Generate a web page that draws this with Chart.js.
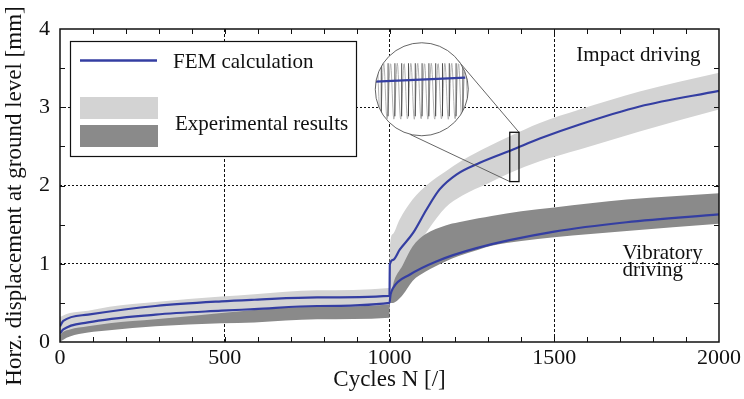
<!DOCTYPE html>
<html>
<head>
<meta charset="utf-8">
<script src="https://cdn.jsdelivr.net/npm/chart.js@4.4.1/dist/chart.umd.min.js"></script>
<style>
  html, body { margin: 0; padding: 0; background: #fff; }
  #wrap { width: 744px; height: 399px; }
</style>
</head>
<body>
<div id="wrap"><canvas id="myChart" width="744" height="399"></canvas></div>
<script>
// FEM calculation curves
const femImpactN = [0, 10, 85, 290, 490, 590, 780, 1000, 1001, 1011, 1031, 1071, 1112, 1152, 1203, 1274, 1375, 1456, 1577, 1759, 2000];
const femImpact  = [0.20, 0.27, 0.35, 0.46, 0.52, 0.54, 0.57, 0.59, 0.99, 1.05, 1.18, 1.39, 1.69, 1.95, 2.14, 2.29, 2.46, 2.60, 2.78, 3.01, 3.21];

const femVibN = [0, 10, 85, 290, 490, 590, 780, 1000, 1003, 1011, 1061, 1142, 1264, 1500, 1719, 2000];
const femVib  = [0.11, 0.16, 0.25, 0.35, 0.40, 0.42, 0.46, 0.50, 0.60, 0.69, 0.86, 1.03, 1.20, 1.41, 1.53, 1.63];

// experimental results, impact driving (light band)
const lightN      = [0, 10, 30, 85, 150, 290, 490, 590, 780, 1000, 1001, 1010, 1030, 1070, 1120, 1170, 1220, 1300, 1365, 1456, 1577, 1759, 2000];
const lightTop    = [0.32, 0.34, 0.37, 0.40, 0.45, 0.51, 0.58, 0.61, 0.66, 0.69, 1.20, 1.38, 1.56, 1.82, 2.03, 2.18, 2.32, 2.50, 2.63, 2.80, 2.97, 3.20, 3.44];
const lightBottom = [0.08, 0.10, 0.13, 0.17, 0.21, 0.26, 0.33, 0.36, 0.40, 0.44, 0.55, 0.62, 0.80, 1.12, 1.45, 1.72, 1.87, 2.03, 2.16, 2.31, 2.46, 2.69, 2.97];

// experimental results, vibratory driving (dark band)
const darkN      = [0, 10, 30, 85, 150, 290, 490, 590, 780, 1000, 1001, 1010, 1040, 1070, 1110, 1170, 1210, 1270, 1310, 1400, 1500, 1720, 2000];
const darkTop    = [0.09, 0.13, 0.16, 0.20, 0.24, 0.29, 0.37, 0.41, 0.45, 0.48, 0.50, 0.72, 0.98, 1.22, 1.38, 1.49, 1.53, 1.58, 1.61, 1.67, 1.72, 1.82, 1.90];
const darkBottom = [0.00, 0.03, 0.07, 0.12, 0.15, 0.20, 0.24, 0.25, 0.29, 0.31, 0.50, 0.50, 0.60, 0.78, 0.90, 1.03, 1.10, 1.18, 1.23, 1.29, 1.34, 1.42, 1.51];

const xTicks = [0, 500, 1000, 1500, 2000];
const yTicks = [0, 1, 2, 3, 4];

const blue = "rgb(52, 62, 162)";
const lightGrey = "rgb(211, 211, 211)";
const darkGrey = "rgb(138, 138, 138)";
const serif = "'Liberation Serif', 'Times New Roman', serif";

function pts(xs, ys) {
  return xs.map((x, i) => ({ x: x, y: ys[i] }));
}

function bandLine(data, fill, color) {
  return {
    data: data,
    borderWidth: 0,
    borderColor: "rgba(0,0,0,0)",
    pointRadius: 0,
    fill: fill,
    backgroundColor: color,
    cubicInterpolationMode: "monotone"
  };
}

// inset magnifier, legend, labels, inward ticks and frame
const extras = {
  id: "extras",
  afterDatasetsDraw(chart) {
    const ctx = chart.ctx;
    const xs = chart.scales.x;
    const ys = chart.scales.y;
    const area = chart.chartArea;

    // zoom box and magnifier circle
    const bx1 = xs.getPixelForValue(1365), bx2 = xs.getPixelForValue(1393);
    const by1 = ys.getPixelForValue(2.68), by2 = ys.getPixelForValue(2.05);
    const cx = xs.getPixelForValue(1098), cy = ys.getPixelForValue(3.23);
    const r = 46.5;

    ctx.save();
    ctx.strokeStyle = "#555";
    ctx.lineWidth = 0.9;
    ctx.beginPath();
    ctx.moveTo(cx + 36, cy - 29);
    ctx.lineTo(bx2, by1);
    ctx.moveTo(cx - 12, cy + 45);
    ctx.lineTo(bx1, by2);
    ctx.stroke();

    ctx.beginPath();
    ctx.arc(cx, cy, r, 0, Math.PI * 2);
    ctx.fillStyle = "#fff";
    ctx.fill();
    ctx.save();
    ctx.clip();
    // grey oscillation
    ctx.strokeStyle = "#aaa";
    ctx.lineWidth = 0.9;
    ctx.beginPath();
    const period = 6.8;
    let first = true;
    for (let px = cx - r; px <= cx + r; px += 0.5) {
      const py = cy + 2 + 28 * Math.cos((px - (cx - r + 5)) / period * Math.PI * 2);
      if (first) { ctx.moveTo(px, py); first = false; } else ctx.lineTo(px, py);
    }
    ctx.stroke();
    // black verticals
    ctx.strokeStyle = "#222";
    ctx.lineWidth = 0.8;
    ctx.beginPath();
    for (let k = 0; k < 14; k++) {
      const px = cx - r + 5 + k * period + 1;
      ctx.moveTo(px, cy - 26);
      ctx.lineTo(px, cy + 27);
    }
    ctx.stroke();
    ctx.strokeStyle = blue;
    ctx.lineWidth = 2.2;
    ctx.beginPath();
    ctx.moveTo(cx - r, cy - 7.7);
    ctx.lineTo(cx + r - 3, cy - 11.7);
    ctx.stroke();
    ctx.restore();

    ctx.strokeStyle = "#555";
    ctx.lineWidth = 0.9;
    ctx.beginPath();
    ctx.arc(cx, cy, r, 0, Math.PI * 2);
    ctx.stroke();

    ctx.strokeStyle = "#111";
    ctx.lineWidth = 1.3;
    ctx.strokeRect(bx1, by1, bx2 - bx1, by2 - by1);

    // text labels
    ctx.fillStyle = "#111";
    ctx.font = "21px " + serif;
    ctx.textAlign = "left";
    ctx.textBaseline = "alphabetic";
    ctx.fillText("Impact driving", xs.getPixelForValue(1567), ys.getPixelForValue(3.585));
    ctx.fillText("Vibratory", xs.getPixelForValue(1707), ys.getPixelForValue(1.06));
    ctx.fillText("driving", xs.getPixelForValue(1707), ys.getPixelForValue(0.845));

    // legend
    ctx.fillStyle = "#fff";
    ctx.fillRect(70.5, 41.5, 286, 115);
    ctx.strokeStyle = "#111";
    ctx.lineWidth = 1.2;
    ctx.strokeRect(70.5, 41.5, 286, 115);
    ctx.strokeStyle = blue;
    ctx.lineWidth = 2.6;
    ctx.beginPath();
    ctx.moveTo(80, 60.5);
    ctx.lineTo(157, 60.5);
    ctx.stroke();
    ctx.fillStyle = lightGrey;
    ctx.fillRect(80, 97, 78, 22);
    ctx.fillStyle = darkGrey;
    ctx.fillRect(80, 125, 78, 22);
    ctx.fillStyle = "#111";
    ctx.font = "21px " + serif;
    ctx.fillText("FEM calculation", 173, 68);
    ctx.fillText("Experimental results", 175, 130);

    // inward minor ticks
    ctx.strokeStyle = "#111";
    ctx.lineWidth = 1;
    ctx.beginPath();
    for (let n = 100; n < 2000; n += 100) {
      const px = Math.round(xs.getPixelForValue(n)) + 0.5;
      ctx.moveTo(px, area.bottom);
      ctx.lineTo(px, area.bottom - 5);
      ctx.moveTo(px, area.top);
      ctx.lineTo(px, area.top + 5);
    }
    for (let v = 0.5; v < 4; v += 0.5) {
      const py = Math.round(ys.getPixelForValue(v)) + 0.5;
      ctx.moveTo(area.left, py);
      ctx.lineTo(area.left + 5, py);
      ctx.moveTo(area.right, py);
      ctx.lineTo(area.right - 5, py);
    }
    ctx.stroke();

    // frame
    ctx.lineWidth = 1.5;
    ctx.strokeRect(area.left, area.top, area.right - area.left, area.bottom - area.top);

    // y axis title
    ctx.save();
    ctx.translate(15, 196);
    ctx.rotate(-Math.PI / 2);
    ctx.textAlign = "center";
    ctx.textBaseline = "middle";
    ctx.font = "23px " + serif;
    ctx.fillStyle = "#111";
    ctx.fillText("Horz. displacement at ground level [mm]", 0, 0);
    ctx.restore();

    ctx.restore();
  }
};

const ctx = document.getElementById("myChart");

new Chart(ctx, {
  type: "line",
  data: {
    datasets: [
      {
        data: pts(femImpactN, femImpact),
        borderColor: blue,
        borderWidth: 2.2,
        pointRadius: 0,
        fill: false,
        cubicInterpolationMode: "monotone"
      },
      {
        data: pts(femVibN, femVib),
        borderColor: blue,
        borderWidth: 2.2,
        pointRadius: 0,
        fill: false,
        cubicInterpolationMode: "monotone"
      },
      bandLine(pts(darkN, darkTop), "+1", darkGrey),
      bandLine(pts(darkN, darkBottom), false, darkGrey),
      bandLine(pts(lightN, lightTop), "+1", lightGrey),
      bandLine(pts(lightN, lightBottom), false, lightGrey)
    ]
  },
  options: {
    responsive: false,
    animation: false,
    devicePixelRatio: 1,
    layout: { padding: { left: 0, right: 24, top: 29, bottom: 0 } },
    plugins: {
      legend: { display: false },
      tooltip: { enabled: false }
    },
    scales: {
      x: {
        type: "linear",
        min: 0,
        max: 2000,
        afterFit: (scale) => { scale.height = 57; },
        afterBuildTicks: (scale) => { scale.ticks = xTicks.map(v => ({ value: v })); },
        ticks: {
          color: "#111",
          padding: 3,
          maxRotation: 0,
          callback: (v) => String(v),
          font: { family: serif, size: 22 }
        },
        grid: {
          drawTicks: false,
          lineWidth: 1,
          color: (c) => (c.tick && c.tick.value > 0 && c.tick.value < 2000) ? "#111" : "rgba(0,0,0,0)"
        },
        border: { display: false, dash: [3, 2] },
        title: {
          display: true,
          text: "Cycles N [/]",
          color: "#111",
          padding: { top: 0, bottom: 5 },
          font: { family: serif, size: 23 }
        }
      },
      y: {
        type: "linear",
        min: 0,
        max: 4,
        afterFit: (scale) => { scale.width = 60; },
        afterBuildTicks: (scale) => { scale.ticks = yTicks.map(v => ({ value: v })); },
        ticks: {
          color: "#111",
          padding: 10,
          callback: (v) => String(v),
          font: { family: serif, size: 22 }
        },
        grid: {
          drawTicks: false,
          lineWidth: 1,
          color: (c) => (c.tick && c.tick.value > 0 && c.tick.value < 4) ? "#111" : "rgba(0,0,0,0)"
        },
        border: { display: false, dash: [2, 2] }
      }
    }
  },
  plugins: [extras]
});
</script>
</body>
</html>
